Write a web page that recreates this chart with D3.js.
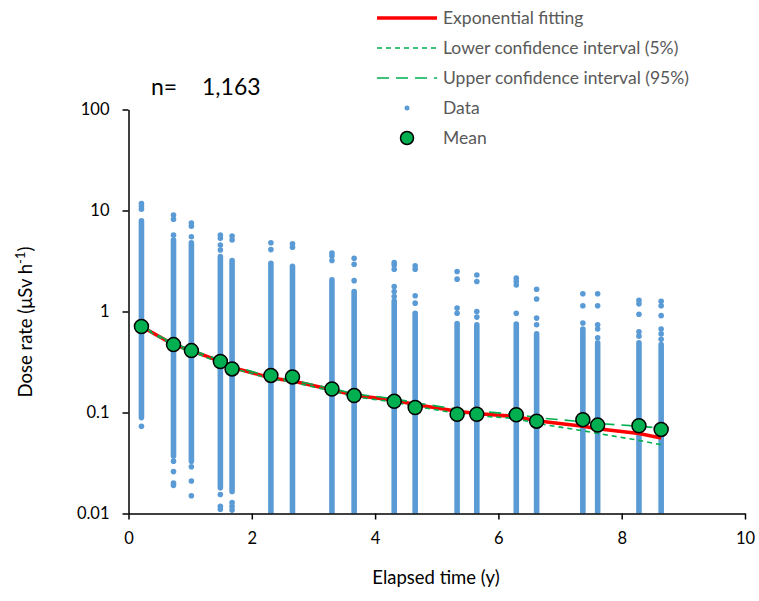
<!DOCTYPE html>
<html>
<head>
<meta charset="utf-8">
<script src="https://cdn.jsdelivr.net/npm/d3@7"></script>
<style>
  html, body { margin: 0; padding: 0; background: #fff; }
  svg text { font-family: Lato, "Open Sans", sans-serif; }
</style>
</head>
<body>
<div id="chart"></div>
<script>
// sampling times (years) of each column
const times = [0.21, 0.73, 1.02, 1.49, 1.68, 2.31, 2.66, 3.30, 3.66, 4.31, 4.65, 5.33, 5.65, 6.29, 6.62, 7.37, 7.61, 8.28, 8.64];

// mean dose rate per column
const meanValues = [0.71, 0.47, 0.41, 0.32, 0.27, 0.233, 0.225, 0.171, 0.147, 0.129, 0.112, 0.096, 0.096, 0.095, 0.082, 0.085, 0.075, 0.074, 0.068];

// fitted curve + confidence interval
const fitValues = [0.71, 0.47, 0.41, 0.32, 0.28, 0.22, 0.205, 0.168, 0.148, 0.132, 0.12, 0.103, 0.098, 0.091, 0.083, 0.073, 0.069, 0.062, 0.056];
const upperCI = [0.72, 0.48, 0.42, 0.33, 0.29, 0.225, 0.21, 0.173, 0.153, 0.137, 0.125, 0.108, 0.103, 0.096, 0.089, 0.081, 0.078, 0.073, 0.070];
const lowerCI = [0.70, 0.46, 0.40, 0.31, 0.275, 0.215, 0.20, 0.163, 0.143, 0.127, 0.115, 0.098, 0.093, 0.087, 0.078, 0.066, 0.062, 0.053, 0.048];

// dense part of each data column (top / bottom) and the isolated points
const bandHigh = [7.9, 5.1, 4.8, 3.5, 3.2, 3.0, 2.8, 2.06, 1.58, 1.27, 0.96, 0.76, 0.74, 0.75, 0.60, 0.67, 0.49, 0.49, 0.47];
const bandLow = [0.089, 0.037, 0.033, 0.018, 0.0165, 0.01, 0.01, 0.01, 0.01, 0.01, 0.01, 0.01, 0.01, 0.01, 0.01, 0.01, 0.01, 0.01, 0.01];
const isolated = [
  [11.7, 11.0, 10.3, 0.073],
  [9.0, 8.2, 5.7, 0.033, 0.026, 0.020, 0.019],
  [7.5, 7.0, 5.5, 0.029, 0.021, 0.015],
  [5.7, 5.3, 4.56, 4.07, 0.0154, 0.0118, 0.011],
  [5.6, 5.1, 0.0128, 0.0117, 0.0108],
  [4.8, 4.1],
  [4.67, 4.33],
  [3.78, 3.55, 3.2],
  [3.37, 2.94, 2.02],
  [3.05, 2.89, 2.62, 1.77, 1.58, 1.41],
  [2.83, 2.62, 1.43, 1.21],
  [2.49, 2.09, 1.08, 0.96],
  [2.30, 1.98, 1.0, 0.88],
  [2.14, 1.98, 1.83, 0.96],
  [1.66, 1.33, 0.86, 0.74],
  [1.50, 1.14, 0.77],
  [1.50, 1.14, 0.74, 0.67, 0.55],
  [1.29, 1.19, 0.94, 0.63, 0.57],
  [1.26, 1.14, 0.91, 0.67, 0.60, 0.53]
];

const xTicks = [0, 2, 4, 6, 8, 10];
const yTicks = [0.01, 0.1, 1, 10, 100];
const yTickLabels = ['0.01', '0.1', '1', '10', '100'];

const legendLabels = [
  'Exponential fitting',
  'Lower confidence interval (5%)',
  'Upper confidence interval (95%)',
  'Data',
  'Mean'
];

const width = 759;
const height = 601;
const margin = { top: 109.5, right: 14, bottom: 87.5, left: 128.5 };

const dataColor = '#5B9BD5';
const meanColor = '#00B050';
const fitColor = '#FF0000';
const ciColor = '#00B050';
const lowerDash = '5,4';
const upperDash = '12,7';

const svg = d3.select('#chart')
  .append('svg')
  .attr('width', width)
  .attr('height', height);

const x = d3.scaleLinear().domain([0, 10]).range([margin.left, width - margin.right]);
const y = d3.scaleLog().domain([0.01, 100]).range([height - margin.bottom, margin.top]);

// clip at the x axis so the columns stop on it
svg.append('clipPath')
  .attr('id', 'plot-clip')
  .append('rect')
  .attr('x', margin.left)
  .attr('y', 0)
  .attr('width', width - margin.left - margin.right)
  .attr('height', height - margin.bottom);

const plot = svg.append('g').attr('clip-path', 'url(#plot-clip)');

// DATA COLUMNS
const cols = times.map((t, i) => ({ t, hi: bandHigh[i], lo: bandLow[i], pts: isolated[i] }));

plot.selectAll('line.band')
  .data(cols)
  .enter()
  .append('line')
  .attr('class', 'band')
  .attr('x1', (d) => x(d.t))
  .attr('x2', (d) => x(d.t))
  .attr('y1', (d) => y(d.hi))
  .attr('y2', (d) => y(d.lo))
  .attr('stroke', dataColor)
  .attr('stroke-width', 5.6)
  .attr('stroke-linecap', 'round');

const dots = cols.flatMap((c) => c.pts.map((v) => ({ t: c.t, v })));
plot.selectAll('circle.dot')
  .data(dots)
  .enter()
  .append('circle')
  .attr('class', 'dot')
  .attr('cx', (d) => x(d.t))
  .attr('cy', (d) => y(d.v))
  .attr('r', 2.8)
  .attr('fill', dataColor);

// FIT + CI
const line = d3.line()
  .x((d) => x(d[0]))
  .y((d) => y(d[1]));

plot.append('path')
  .datum(times.map((t, i) => [t, fitValues[i]]))
  .attr('d', line)
  .attr('fill', 'none')
  .attr('stroke', fitColor)
  .attr('stroke-width', 3.5);

plot.append('path')
  .datum(times.map((t, i) => [t, lowerCI[i]]))
  .attr('d', line)
  .attr('fill', 'none')
  .attr('stroke', ciColor)
  .attr('stroke-width', 1.6)
  .attr('stroke-dasharray', lowerDash);

plot.append('path')
  .datum(times.map((t, i) => [t, upperCI[i]]))
  .attr('d', line)
  .attr('fill', 'none')
  .attr('stroke', ciColor)
  .attr('stroke-width', 1.6)
  .attr('stroke-dasharray', upperDash);

// MEANS
svg.selectAll('circle.mean')
  .data(times.map((t, i) => ({ t, v: meanValues[i] })))
  .enter()
  .append('circle')
  .attr('class', 'mean')
  .attr('cx', (d) => x(d.t))
  .attr('cy', (d) => y(d.v))
  .attr('r', 7)
  .attr('fill', meanColor)
  .attr('stroke', '#000')
  .attr('stroke-width', 1.5);

// AXES
const xAxis = d3.axisBottom(x).tickValues(xTicks).tickSize(6).tickSizeOuter(0).tickPadding(13);
const yAxis = d3.axisLeft(y).tickValues(yTicks).tickSize(6).tickSizeOuter(0).tickPadding(13)
  .tickFormat((d, i) => yTickLabels[i]);

const xAxisGroup = svg.append('g')
  .attr('transform', `translate(0,${height - margin.bottom})`)
  .call(xAxis);

const yAxisGroup = svg.append('g')
  .attr('transform', `translate(${margin.left},0)`)
  .call(yAxis);

[xAxisGroup, yAxisGroup].forEach((g) => {
  g.select('.domain').attr('stroke', '#000').attr('stroke-width', 1.5);
  g.selectAll('.tick line').attr('stroke', '#000').attr('stroke-width', 1.5);
  g.selectAll('.tick text')
    .style('font-size', '16.5px')
    .style('font-family', 'Lato, sans-serif')
    .attr('fill', '#000');
});

// axis titles
svg.append('text')
  .attr('x', 436)
  .attr('y', 584)
  .attr('text-anchor', 'middle')
  .style('font-size', '18.5px')
  .attr('fill', '#000')
  .text('Elapsed time (y)');

const yTitle = svg.append('text')
  .attr('transform', 'translate(31.5,322) rotate(-90)')
  .attr('text-anchor', 'middle')
  .style('font-size', '18.5px')
  .attr('fill', '#000');
yTitle.append('tspan').text('Dose rate (μSv h');
yTitle.append('tspan').attr('dy', -7).style('font-size', '13px').text('-1');
yTitle.append('tspan').attr('dy', 7).text(')');

// n label
svg.append('text')
  .attr('x', 151)
  .attr('y', 95)
  .style('font-size', '23px')
  .attr('fill', '#000')
  .text('n=');

svg.append('text')
  .attr('x', 202)
  .attr('y', 95)
  .style('font-size', '23px')
  .attr('fill', '#000')
  .text('1,163');

// LEGEND
const legendY = [18, 48, 78, 108, 138];
const legend = svg.append('g').attr('class', 'legend');

legend.append('line')
  .attr('x1', 377).attr('x2', 437)
  .attr('y1', legendY[0]).attr('y2', legendY[0])
  .attr('stroke', fitColor).attr('stroke-width', 3.5);

legend.append('line')
  .attr('x1', 377).attr('x2', 437)
  .attr('y1', legendY[1]).attr('y2', legendY[1])
  .attr('stroke', ciColor).attr('stroke-width', 1.6)
  .attr('stroke-dasharray', lowerDash);

legend.append('line')
  .attr('x1', 377).attr('x2', 437)
  .attr('y1', legendY[2]).attr('y2', legendY[2])
  .attr('stroke', ciColor).attr('stroke-width', 1.6)
  .attr('stroke-dasharray', upperDash);

legend.append('circle')
  .attr('cx', 407).attr('cy', legendY[3]).attr('r', 2.5)
  .attr('fill', dataColor);

legend.append('circle')
  .attr('cx', 407).attr('cy', legendY[4]).attr('r', 6.5)
  .attr('fill', meanColor).attr('stroke', '#000').attr('stroke-width', 1.5);

legend.selectAll('text')
  .data(legendLabels)
  .enter()
  .append('text')
  .attr('x', 443)
  .attr('y', (d, i) => legendY[i])
  .attr('dy', '0.35em')
  .style('font-size', '17.5px')
  .attr('fill', '#595959')
  .text((d) => d);
</script>
</body>
</html>
